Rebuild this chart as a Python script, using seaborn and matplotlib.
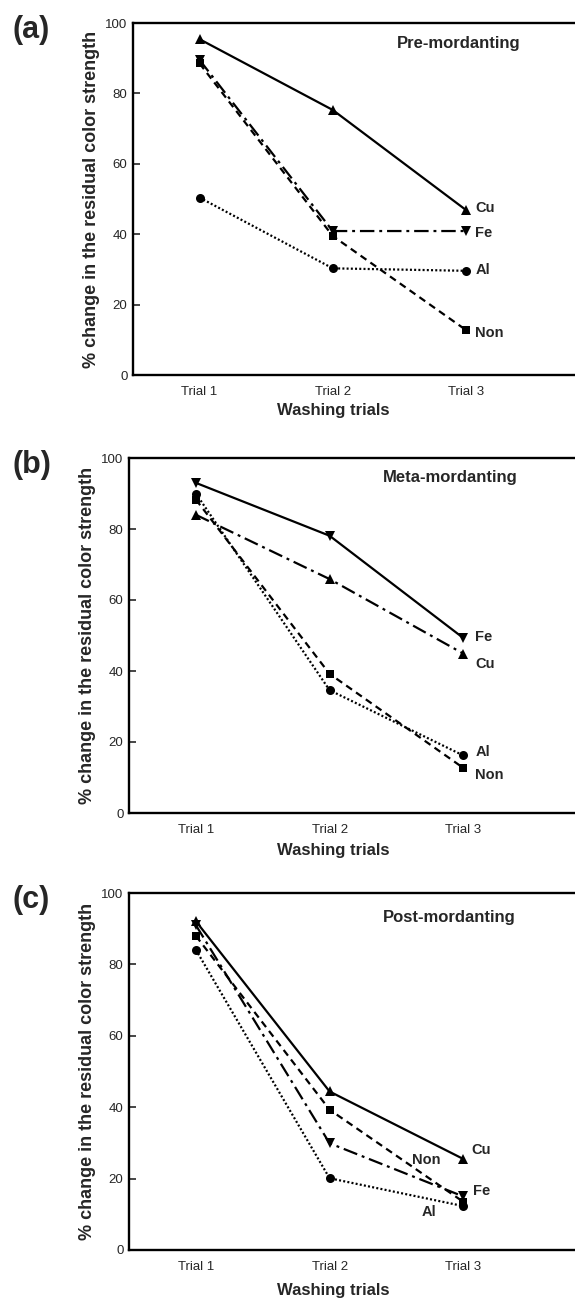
import matplotlib
matplotlib.use("Agg")
import matplotlib.pyplot as plt
import seaborn as sns

trials = ["Trial 1", "Trial 2", "Trial 3"]

# (a) Pre-mordanting
pre_cu = [95.4, 75.3, 46.9]
pre_fe = [89.5, 40.9, 40.9]
pre_non = [88.5, 39.5, 12.8]
pre_al = [50.4, 30.3, 29.6]

# (b) Meta-mordanting
meta_fe = [93.0, 78.1, 49.3]
meta_cu = [84.0, 65.9, 44.9]
meta_non = [88.3, 39.2, 12.7]
meta_al = [90.0, 34.6, 16.2]

# (c) Post-mordanting
post_cu = [92.1, 44.4, 25.5]
post_fe = [91.0, 29.9, 15.0]
post_non = [88.0, 39.3, 13.5]
post_al = [84.1, 20.1, 12.3]

panel_letters = ["(a)", "(b)", "(c)"]
panel_titles = ["Pre-mordanting", "Meta-mordanting", "Post-mordanting"]
y_ticks = [0, 20, 40, 60, 80, 100]
y_label = "% change in the residual color strength"
x_label = "Washing trials"

sns.set_style("ticks")
plt.rcParams["font.family"] = ["Liberation Sans", "DejaVu Sans"]

SOLID = "-"
DASHED = (0, (3.2, 2.2))
DASHDOT = (0, (6.5, 2.2, 1.3, 2.2))
DOTTED = (0, (0.9, 1.0))

MARK = {"Cu": ("^", 7.5), "Fe": ("v", 7.5), "Non": ("s", 6), "Al": ("o", 6.5)}

panels = [
    {
        "series": [("Non", pre_non, DASHED), ("Al", pre_al, DOTTED),
                   ("Fe", pre_fe, DASHDOT), ("Cu", pre_cu, SOLID)],
        "labels": [("Cu", 2.07, 47.4), ("Fe", 2.07, 40.4), ("Al", 2.07, 29.8), ("Non", 2.07, 12.0)],
        "title_pos": (1.48, 94.3),
        "rect": [133 / 575, 1 - 375 / 1302, 466 / 575, 352 / 1302],
        "letter_y": 30, "ylab_x": 92, "xlab_y": 411,
    },
    {
        "series": [("Non", meta_non, DASHED), ("Al", meta_al, DOTTED),
                   ("Cu", meta_cu, DASHDOT), ("Fe", meta_fe, SOLID)],
        "labels": [("Fe", 2.09, 49.7), ("Cu", 2.09, 42.1), ("Al", 2.09, 17.2), ("Non", 2.09, 10.8)],
        "title_pos": (1.40, 94.4),
        "rect": [129 / 575, 1 - 813 / 1302, 468 / 575, 355 / 1302],
        "letter_y": 465, "ylab_x": 88, "xlab_y": 850,
    },
    {
        "series": [("Non", post_non, DASHED), ("Al", post_al, DOTTED),
                   ("Fe", post_fe, DASHDOT), ("Cu", post_cu, SOLID)],
        "labels": [("Cu", 2.06, 28.0), ("Non", 1.62, 25.2), ("Fe", 2.07, 16.4), ("Al", 1.69, 10.7)],
        "title_pos": (1.40, 93.0),
        "rect": [129 / 575, 1 - 1250 / 1302, 468 / 575, 357 / 1302],
        "letter_y": 900, "ylab_x": 88, "xlab_y": 1291,
    },
]

fig = plt.figure(figsize=(5.75, 13.02), dpi=100)
W, H = 575, 1302

for i, p in enumerate(panels):
    ax = fig.add_axes(p["rect"])
    for name, vals, ls in p["series"]:
        m, ms = MARK[name]
        sns.lineplot(x=trials, y=vals, ax=ax, color="black", linewidth=1.6,
                     linestyle=ls, marker=m, markersize=ms,
                     markeredgewidth=0, markerfacecolor="black", sort=False)
    for name, lx, ly in p["labels"]:
        ax.text(lx, ly, name, fontsize=10.5, fontweight="bold", ha="left", va="center")
    tx, ty = p["title_pos"]
    ax.text(tx, ty, panel_titles[i], fontsize=12, fontweight="bold", ha="left", va="center")
    ax.set_xlim(-0.5, 3.0)
    ax.set_ylim(0, 100)
    ax.set_yticks(y_ticks)
    ax.set_yticklabels([str(t) for t in y_ticks], fontsize=9.5)
    ax.tick_params(axis="y", direction="in", length=5, width=1.2, pad=4)
    ax.tick_params(axis="x", length=0, pad=8, labelsize=9.5)
    for s in ax.spines.values():
        s.set_linewidth(1.7)
        s.set_color("black")
    ax.set_xlabel("")
    ax.set_ylabel("")
    ycen = p["rect"][1] + p["rect"][3] / 2
    fig.text(p["ylab_x"] / W, ycen, y_label, rotation=90, fontsize=13,
             fontweight="bold", ha="center", va="center")
    fig.text(333 / W, 1 - p["xlab_y"] / H, x_label, fontsize=12,
             fontweight="bold", ha="center", va="center")
    fig.text(12 / W, 1 - p["letter_y"] / H, panel_letters[i], fontsize=22,
             fontweight="bold", ha="left", va="center")

fig.savefig("out.png", dpi=100)
